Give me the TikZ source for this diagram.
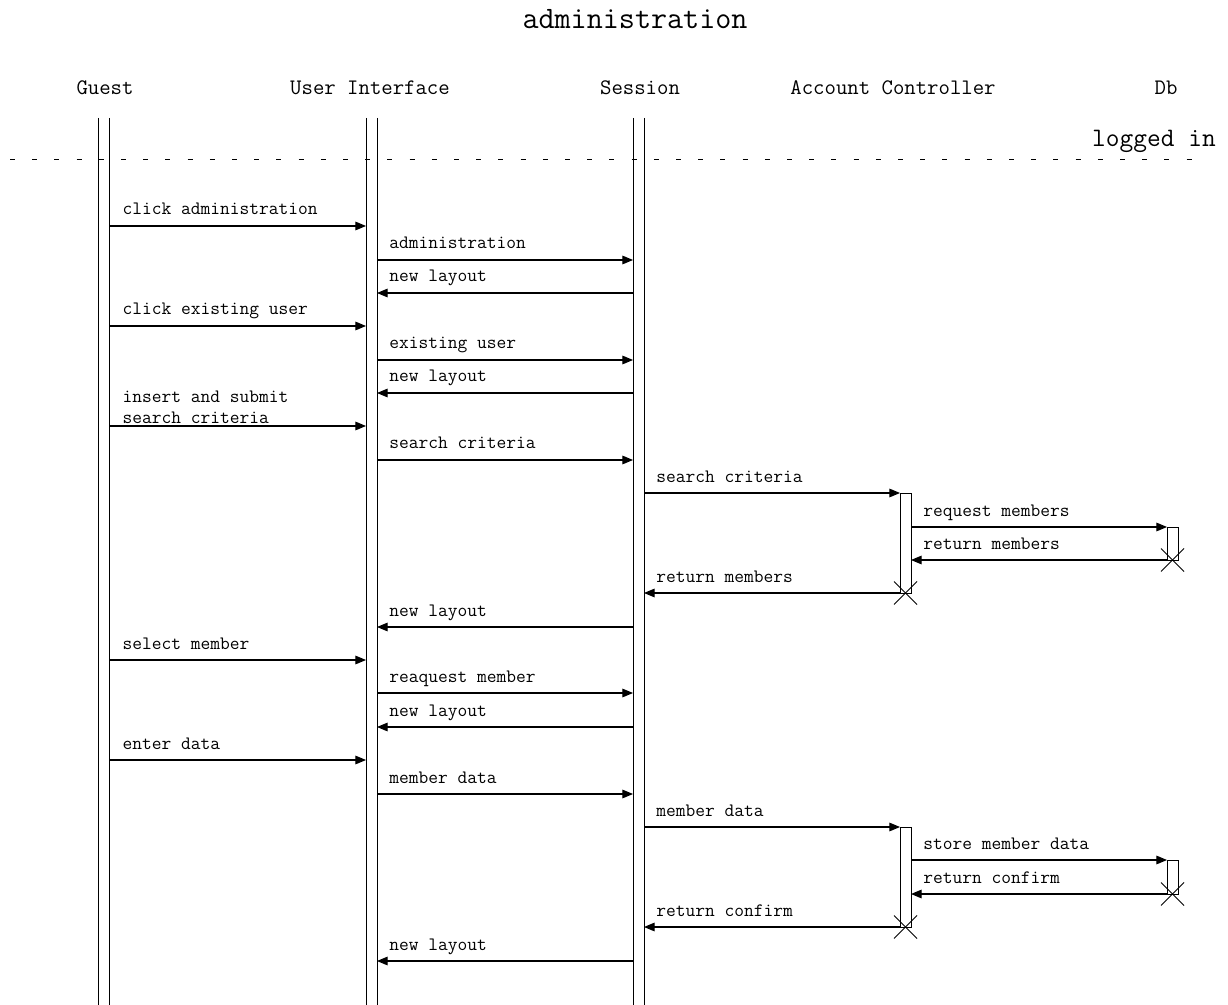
\documentclass[tikz,border=0pt]{standalone}
\usepackage{fontspec}
\usetikzlibrary{arrows.meta}
\tikzset{
  lifeline/.style={line width=0.6pt},
  msg/.style={line width=0.8pt,-{Triangle[length=8pt,width=6.5pt]}},
  lbl/.style={anchor=base west,inner sep=0pt,font=\ttfamily\fontsize{14.2}{16}\selectfont},
  part/.style={inner sep=0pt,font=\ttfamily\fontsize{16.6}{19}\selectfont},
  actbox/.style={draw,fill=white,line width=0.6pt},
  xmark/.style={line width=0.6pt},
  sep/.style={line width=0.7pt,dash pattern=on 3.75pt off 12.9pt}
}
\newcommand\msg[3]{% y, from, to
  \draw[msg] (#2 |- 0,#1) -- (#3 |- 0,#1);
}
\newcommand\msglbl[4][9pt]{% xshift, y, lifeline, text
  \node[lbl] at ([xshift=#1,yshift=8.25pt]#3 |- 0,#2) {#4};
}
\begin{document}
\begin{tikzpicture}[x=0.75pt,y=-0.75pt]
\useasboundingbox (0,0) rectangle (1228,1005);
% title
\node[anchor=base,inner sep=0pt,font=\ttfamily\fontsize{23.4}{27}\selectfont] (title) at (635,29) {administration};
% participants
\node[part] (guest) at (105,88) {Guest};
\node[part] (ui) at (370,88) {User Interface};
\node[part] (session) at (640,88) {Session};
\node[part] (acc) at (893,88) {Account Controller};
\node[part] (db) at (1166,88) {Db};
% lifeline coordinates
\coordinate (gL) at (98,118);  \coordinate (gR) at (109,118);
\coordinate (uL) at (366,118); \coordinate (uR) at (377,118);
\coordinate (sL) at (633,118); \coordinate (sR) at (644,118);
\coordinate (aL) at (900,118); \coordinate (aR) at (911,118);
\coordinate (dL) at (1167,118);\coordinate (dR) at (1178,118);
\foreach \c in {gL,gR,uL,uR,sL,sR}{
  \draw[lifeline] (\c) -- (\c |- 0,1005);
}
% separator
\draw[sep] (10,159) -- (1192,159);
\node[anchor=base east,inner sep=0pt,font=\ttfamily\fontsize{20}{23}\selectfont] (logged) at (1216,147) {logged in};
% activation boxes
\draw[actbox] (aL |- 0,493) rectangle (aR |- 0,593);
\draw[actbox] (dL |- 0,527) rectangle (dR |- 0,560);
\draw[actbox] (aL |- 0,827) rectangle (aR |- 0,927);
\draw[actbox] (dL |- 0,860) rectangle (dR |- 0,894);
% messages
\msg{226}{gR}{uL} \msglbl[10pt]{226}{gR}{click administration}
\msg{260}{uR}{sL} \msglbl{260}{uR}{administration}
\msg{293}{sL}{uR} \msglbl{293}{uR}{new layout}
\msg{326}{gR}{uL} \msglbl[10pt]{326}{gR}{click existing user}
\msg{360}{uR}{sL} \msglbl{360}{uR}{existing user}
\msg{393}{sL}{uR} \msglbl{393}{uR}{new layout}
\msg{426}{gR}{uL}
\node[lbl,align=left,anchor=south west] (insert) at ([xshift=10pt,yshift=1.5pt]gR |- 0,426) {insert and submit\\search criteria};
\msg{460}{uR}{sL} \msglbl{460}{uR}{search criteria}
\msg{493}{sR}{aL} \msglbl{493}{sR}{search criteria}
\msg{527}{aR}{dL} \msglbl{527}{aR}{request members}
\msg{560}{dL}{aR} \msglbl{560}{aR}{return members}
\msg{593}{aL}{sR} \msglbl{593}{sR}{return members}
\msg{627}{sL}{uR} \msglbl{627}{uR}{new layout}
\msg{660}{gR}{uL} \msglbl[10pt]{660}{gR}{select member}
\msg{693}{uR}{sL} \msglbl{693}{uR}{reaquest member}
\msg{727}{sL}{uR} \msglbl{727}{uR}{new layout}
\msg{760}{gR}{uL} \msglbl[10pt]{760}{gR}{enter data}
\msg{794}{uR}{sL} \msglbl{794}{uR}{member data}
\msg{827}{sR}{aL} \msglbl{827}{sR}{member data}
\msg{860}{aR}{dL} \msglbl{860}{aR}{store member data}
\msg{894}{dL}{aR} \msglbl{894}{aR}{return confirm}
\msg{927}{aL}{sR} \msglbl{927}{sR}{return confirm}
\msg{961}{sL}{uR} \msglbl{961}{uR}{new layout}
% destruction marks
\coordinate (x1) at (1172.5,560); \coordinate (x2) at (905.5,593);
\coordinate (x3) at (1172.5,894); \coordinate (x4) at (905.5,927);
\foreach \c in {x1,x2,x3,x4}{
  \draw[xmark] ([shift={(-11.5,-11.5)}]\c) -- ([shift={(11.5,11.5)}]\c);
  \draw[xmark] ([shift={(-11.5,11.5)}]\c) -- ([shift={(11.5,-11.5)}]\c);
}
\end{tikzpicture}
\end{document}
